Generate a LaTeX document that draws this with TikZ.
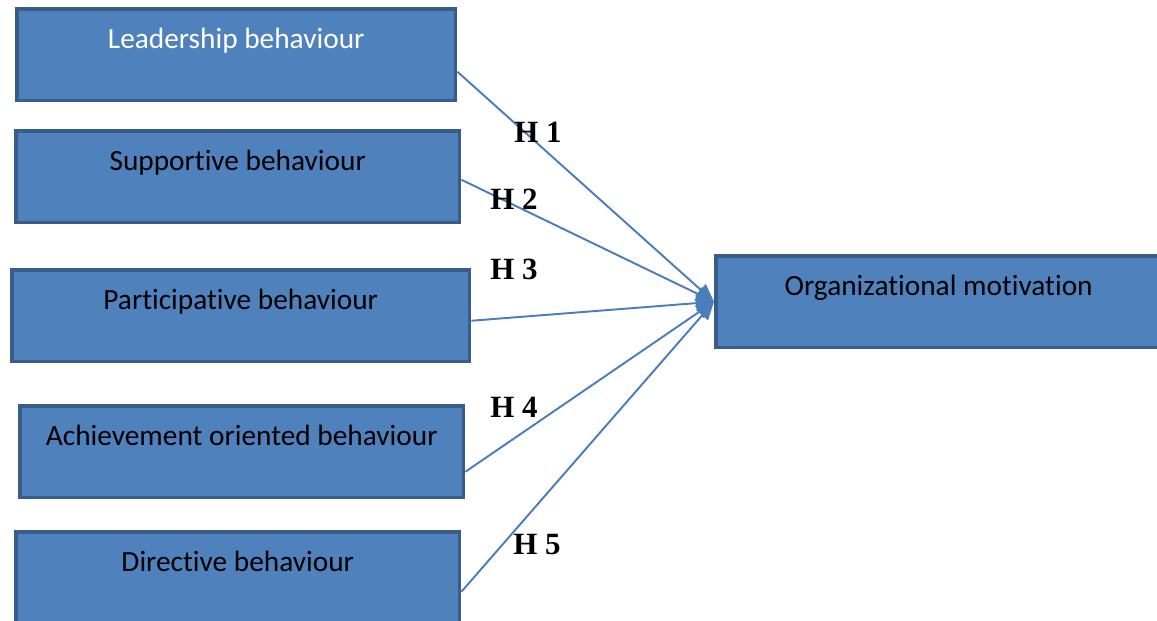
\documentclass[tikz,border=0pt]{standalone}
\usepackage{fontspec}
\setmainfont{Liberation Serif}
\newfontfamily\boxfont[Ligatures=NoCommon]{Carlito}
\usetikzlibrary{arrows.meta,calc}
\definecolor{boxBlue}{RGB}{79,129,189}
\definecolor{boxBlueDark}{RGB}{56,93,138}
\definecolor{linkBlue}{RGB}{74,126,187}

\tikzset{
    behaviour/.style={draw=boxBlueDark, fill=boxBlue, line width=2pt, inner sep=0pt,
        anchor=north west, text height=0.80cm, text depth=1.04cm,
        font=\boxfont\fontsize{16.7}{20}\selectfont},
    hyp/.style={font=\fontsize{17.6}{21}\selectfont\bfseries, anchor=base west, inner sep=0pt},
    link/.style={linkBlue, line width=1.1pt, -{Triangle[length=0.36cm,width=0.3cm]}}
}

\begin{document}
\begin{tikzpicture}[x=0.02cm,y=-0.02cm]

\useasboundingbox (0,0) rectangle (1157,621);
\clip (0,0) rectangle (1157,621);

% =========================
% 1. behaviour boxes
% =========================
\node[behaviour, minimum width=8.78cm, text=white] (lead) at (15,7) {Leadership behaviour};
\node[behaviour, minimum width=8.88cm] (supp) at (14,129) {Supportive behaviour};
\node[behaviour, minimum width=9.16cm] (part) at (10,268) {Participative behaviour};
\node[behaviour, minimum width=8.88cm] (achv) at (18,404) {Achievement oriented behaviour};
\node[behaviour, minimum width=8.88cm] (dirc) at (14,530) {Directive behaviour};

% =========================
% 2. outcome
% =========================
\node[behaviour, minimum width=8.92cm] (motiv) at (714,254) {Organizational motivation};

% =========================
% 3. hypotheses
% =========================
\draw[link] ([yshift=-0.34cm]lead.east) -- (motiv.west);
\draw[link] ([yshift=-0.06cm]supp.east) -- (motiv.west);
\draw[link] ([yshift=-0.10cm]part.east) -- (motiv.west);
\draw[link] ([yshift=-0.40cm]achv.east) -- (motiv.west);
\draw[link] ([yshift=-0.28cm]dirc.east) -- (motiv.west);

\node[hyp] (h1) at (514,143) {H 1};
\node[hyp] (h2) at (490,210) {H 2};
\node[hyp] (h3) at (490,280) {H 3};
\node[hyp] (h4) at (490,418) {H 4};
\node[hyp] (h5) at (513,555) {H 5};

\end{tikzpicture}
\end{document}
